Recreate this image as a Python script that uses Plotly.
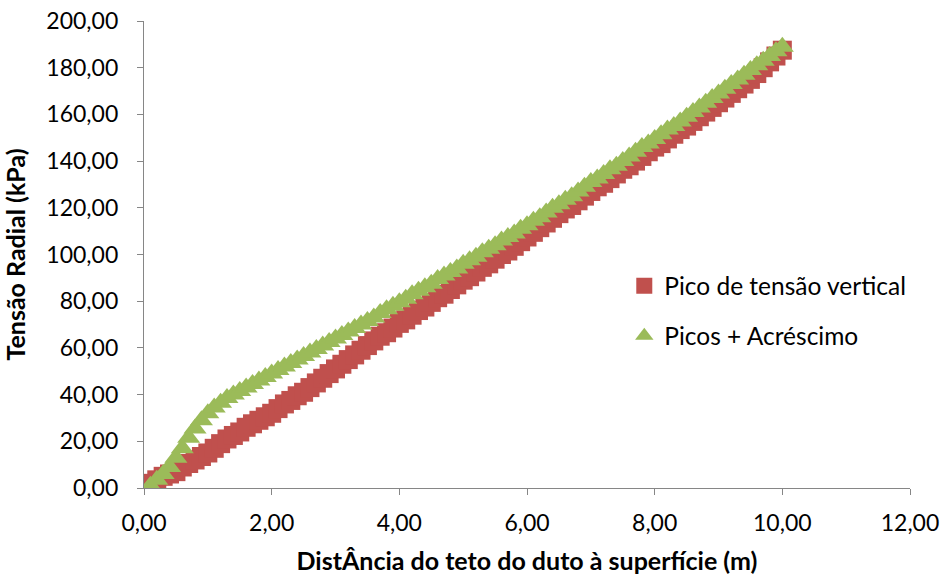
import plotly.graph_objects as go

# Distance (m): 0.1 .. 10.0 in 0.1 m steps
dist = [round(0.1 * i, 1) for i in range(1, 101)]

pico_vertical = [
    2.0, 3.5, 5.0, 6.0, 7.0, 9.0, 10.5, 12.0, 13.5, 15.0,
    17.0, 19.0, 21.0, 22.5, 24.0, 26.0, 27.5, 29.0, 30.5, 32.0,
    34.0, 36.0, 37.5, 39.5, 41.0, 43.0, 45.0, 47.0, 49.0, 51.0,
    53.0, 55.0, 57.0, 59.0, 61.0, 63.0, 65.0, 66.5, 68.5, 70.5,
    72.0, 74.0, 76.0, 77.5, 79.5, 81.5, 83.0, 85.0, 87.0, 89.0,
    90.5, 92.5, 94.5, 96.0, 98.0, 100.0, 101.5, 103.5, 105.5, 107.5,
    109.5, 111.5, 113.5, 115.5, 117.5, 119.5, 121.0, 123.0, 125.0, 127.0,
    129.0, 130.5, 132.5, 134.5, 136.5, 138.0, 140.0, 142.0, 144.0, 146.0,
    147.5, 149.5, 151.5, 153.5, 155.0, 157.0, 159.0, 161.0, 163.0, 165.0,
    167.0, 169.0, 171.0, 173.0, 175.0, 177.5, 180.0, 182.5, 185.0, 187.5,
]

picos_acrescimo = [
    1.0, 3.5, 6.0, 9.0, 13.0, 17.0, 21.5, 25.5, 29.0, 32.0,
    34.5, 36.5, 38.5, 40.0, 41.5, 43.0, 44.5, 46.0, 47.5, 49.0,
    50.5, 52.0, 53.5, 55.0, 56.5, 58.0, 59.5, 61.0, 62.5, 64.0,
    65.5, 67.0, 68.5, 70.0, 71.5, 73.0, 75.0, 76.5, 78.0, 79.5,
    81.0, 83.0, 84.5, 86.0, 87.5, 89.5, 91.0, 92.5, 94.0, 96.0,
    97.5, 99.0, 101.0, 102.5, 104.0, 106.0, 107.5, 109.0, 111.0, 112.5,
    114.5, 116.0, 118.0, 120.0, 121.5, 123.5, 125.0, 127.0, 129.0, 131.0,
    132.5, 134.5, 136.5, 138.0, 140.0, 142.0, 144.0, 146.0, 147.5, 149.5,
    151.5, 153.5, 155.0, 157.0, 159.0, 161.0, 163.0, 165.0, 167.0, 169.0,
    171.0, 173.0, 175.0, 177.0, 179.0, 181.0, 183.0, 185.0, 187.0, 189.0,
]

x_ticks = [0, 2, 4, 6, 8, 10, 12]
x_ticktext = ["0,00", "2,00", "4,00", "6,00", "8,00", "10,00", "12,00"]
y_ticks = [0, 20, 40, 60, 80, 100, 120, 140, 160, 180, 200]
y_ticktext = ["0,00", "20,00", "40,00", "60,00", "80,00", "100,00",
              "120,00", "140,00", "160,00", "180,00", "200,00"]

FONT = "Lato"
fig = go.Figure()
fig.add_trace(go.Scatter(
    x=dist, y=pico_vertical, mode="markers", name="Pico de tensão vertical",
    legendgroup="a",
    marker=dict(symbol="square", size=19, color="#C0504D", line=dict(width=0)),
))
fig.add_trace(go.Scatter(
    x=dist, y=picos_acrescimo, mode="markers", name="Picos + Acréscimo",
    legendgroup="b",
    marker=dict(symbol="triangle-up", size=20, color="#9BBB59", line=dict(width=0)),
))

axis_common = dict(
    showgrid=False, zeroline=False, showline=True, linecolor="#868686",
    linewidth=1.3, ticks="outside", ticklen=6, tickcolor="#868686", tickwidth=1.3,
    tickfont=dict(family=FONT, size=23, color="#000000"),
)
fig.update_xaxes(range=[0, 12], tickvals=x_ticks, ticktext=x_ticktext,
                 title=dict(text="<b>DistÂncia do teto do duto à superfície (m)</b>",
                            font=dict(family=FONT, size=25, color="#000000"), standoff=17),
                 ticklabelstandoff=8, **axis_common)
fig.update_yaxes(range=[0, 200], tickvals=y_ticks, ticktext=y_ticktext,
                 title=dict(text="<b>Tensão Radial (kPa)</b>",
                            font=dict(family=FONT, size=25, color="#000000"), standoff=17),
                 ticklabelstandoff=14, **axis_common)

fig.update_layout(
    width=944, height=577,
    margin=dict(l=144, r=34, t=21, b=89, autoexpand=False),
    paper_bgcolor="white", plot_bgcolor="white",
    font=dict(family=FONT, size=23, color="#000000"),
    legend=dict(x=0.627, y=0.481, xanchor="left", yanchor="top",
                bgcolor="rgba(0,0,0,0)", tracegroupgap=15,
                font=dict(family=FONT, size=24.5, color="#000000")),
)

fig.write_html("out.html")
